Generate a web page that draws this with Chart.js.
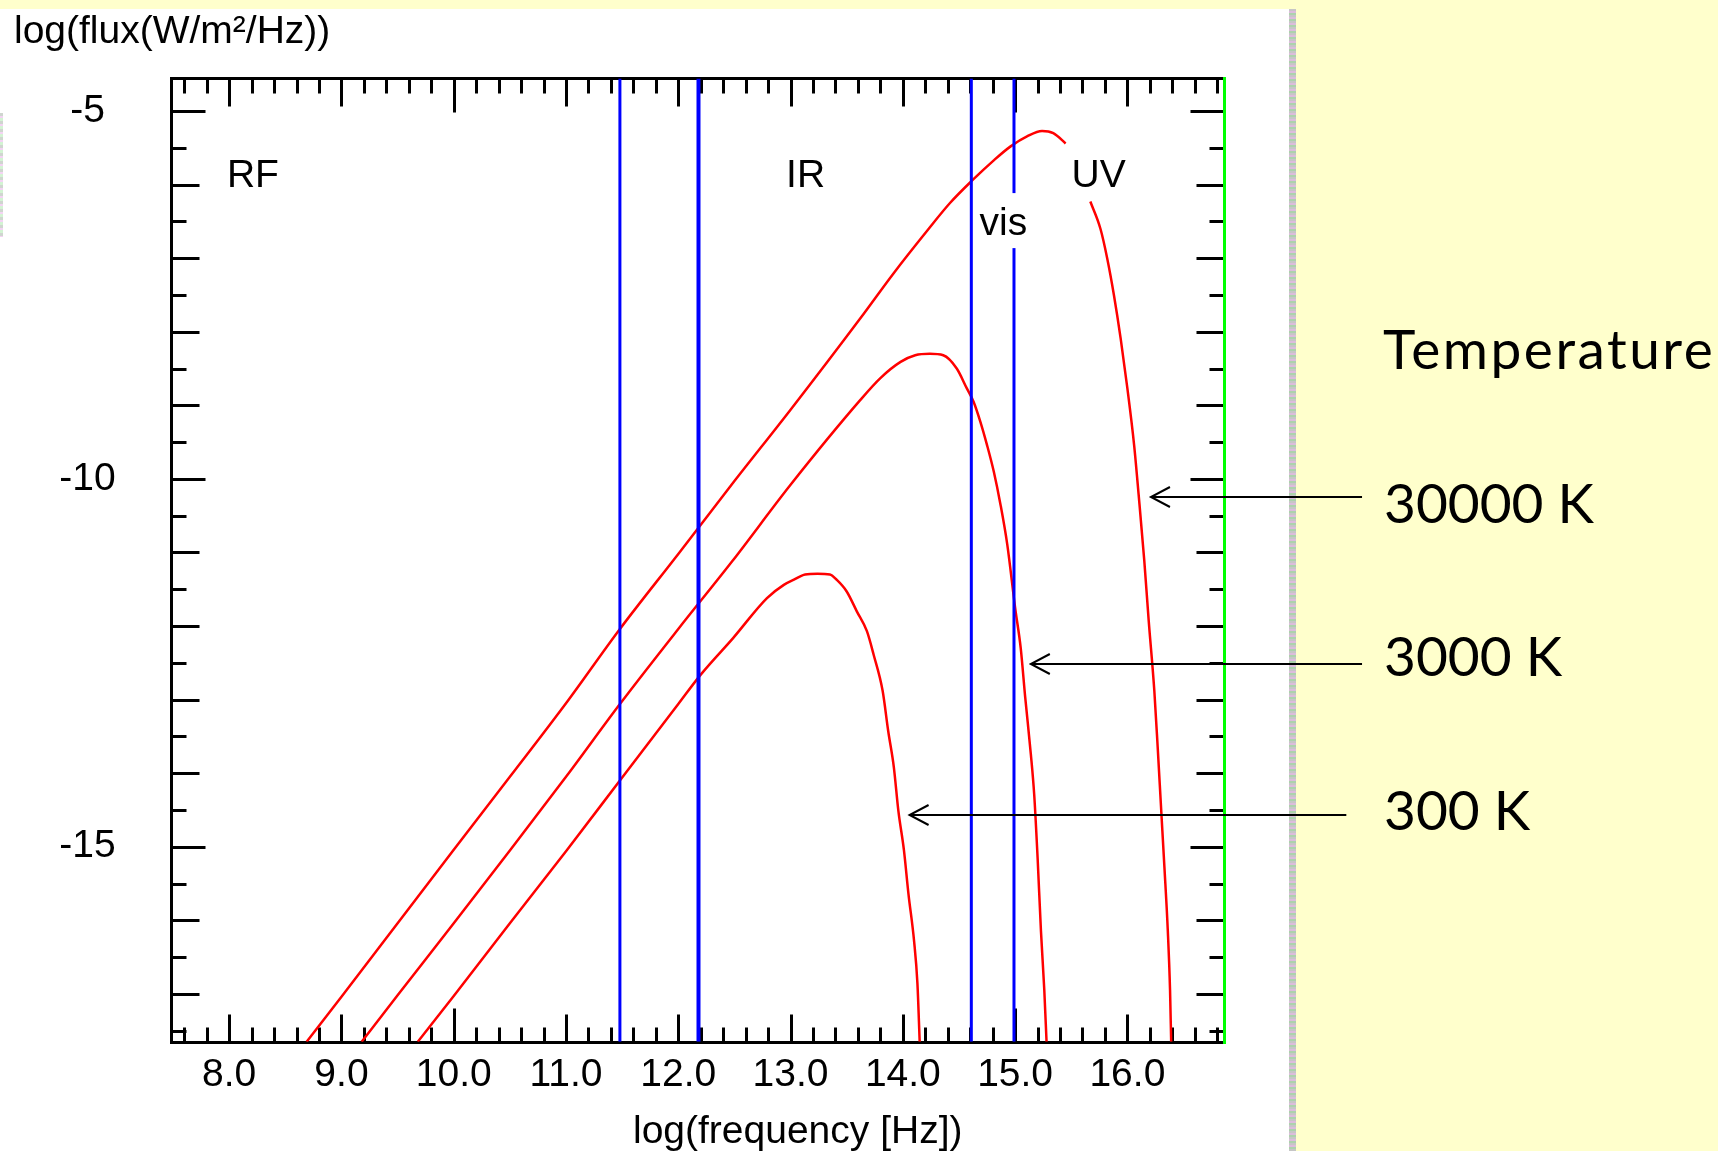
<!DOCTYPE html>
<html>
<head>
<meta charset="utf-8">
<title>Blackbody spectra</title>
<script src="https://cdn.jsdelivr.net/npm/chart.js@4.4.0/dist/chart.umd.min.js"></script>
<style>
  html, body { margin: 0; padding: 0; }
  body { width: 1718px; height: 1151px; background: #ffffcc; position: relative; overflow: hidden; }
  #panel { position: absolute; left: 0; top: 9px; width: 1289px; height: 1142px; background: #fff; }
  #panelEdge { position: absolute; left: 1289px; top: 9px; width: 7px; height: 1142px;
    background: repeating-linear-gradient(180deg, #c6c6c6 0 2px, #dcbcdc 2px 4px, #acd2ac 4px 6px); }
  #leftEdge { position: absolute; left: 0; top: 113px; width: 3px; height: 124px;
    background: repeating-linear-gradient(180deg, #cfd6cf 0 3px, #f3d3f3 3px 5px, #d3f3d3 5px 8px); }
  #chart { position: absolute; left: 0; top: 0; }
</style>
</head>
<body>
<div id="panel"></div>
<div id="panelEdge"></div>
<div id="leftEdge"></div>
<canvas id="chart" width="1718" height="1151"></canvas>
<script>
// log10 frequency [Hz] vs log10 flux [W/m²/Hz] along each blackbody curve
const hotX = [8.69, 9.0, 9.5, 10.0, 10.5, 11.0, 11.48, 12.0, 12.5, 13.0, 13.62, 13.92, 14.22, 14.42, 14.62,
  14.81, 14.96, 15.11, 15.24, 15.34, 15.45, 15.55, 15.67, 15.76, 15.82, 15.88, 15.94, 16.0, 16.06, 16.1,
  16.15, 16.19, 16.24, 16.27, 16.3, 16.33, 16.36, 16.38, 16.39];
const hotY = [-17.65, -17.04, -16.04, -15.04, -14.05, -13.05, -12.04, -11.02, -10.03, -9.06, -7.82, -7.2,
  -6.62, -6.25, -5.94, -5.67, -5.48, -5.34, -5.27, -5.3, -5.44, null, -6.23, -6.6, -7.0, -7.5, -8.09,
  -8.77, -9.54, -10.21, -11.1, -11.93, -12.88, -13.65, -14.47, -15.28, -16.14, -16.95, -17.65];

const warmX = [9.18, 9.5, 10.0, 10.5, 11.0, 11.48, 12.0, 12.48, 13.0, 13.62, 13.8, 13.98, 14.11, 14.24,
  14.36, 14.48, 14.57, 14.63, 14.69, 14.75, 14.81, 14.87, 14.93, 15.0, 15.05, 15.09, 15.14, 15.17, 15.2,
  15.23, 15.26, 15.28];
const warmY = [-17.65, -17.02, -16.04, -15.05, -14.05, -13.06, -12.04, -11.12, -10.08, -8.93, -8.63, -8.41,
  -8.32, -8.3, -8.32, -8.5, -8.77, -8.95, -9.22, -9.54, -9.9, -10.35, -10.89, -11.75, -12.3, -12.97,
  -13.74, -14.29, -15.14, -16.14, -16.95, -17.65];

const coolX = [9.68, 10.0, 10.5, 11.0, 11.48, 12.0, 12.2, 12.49, 12.79, 12.94, 13.03, 13.13, 13.24, 13.35,
  13.41, 13.5, 13.59, 13.68, 13.74, 13.82, 13.87, 13.92, 13.96, 14.01, 14.05, 14.1, 14.13, 14.15];
const coolY = [-17.65, -17.03, -16.04, -15.06, -14.1, -13.06, -12.66, -12.16, -11.62, -11.44, -11.37, -11.3,
  -11.29, -11.3, -11.37, -11.53, -11.8, -12.07, -12.39, -12.88, -13.43, -13.92, -14.51, -15.05, -15.64,
  -16.28, -16.86, -17.65];

const tempLabels = ["30000 K", "3000 K", "300 K"];
const bandEdges = [11.48, 12.18, 14.61, 14.99];
const bandNames = ["RF", "IR", "vis", "UV"];
const xTickLabels = [8, 9, 10, 11, 12, 13, 14, 15, 16];
const yTickLabels = [-5, -10, -15];

// axis limits
const xMin = 7.479, xMax = 16.865;
const yMin = -17.65, yMax = -4.556;

// where the band names sit (left edge, baseline)
const bandLabelX = [7.98, 12.96, 14.683, 15.503];
const bandLabelY = [-6.036, -6.036, -6.686, -6.036];

// arrows from the temperature labels to their curves
const arrowTipX = [16.21, 15.14, 14.06];
const arrowTailX = [18.09, 18.09, 17.95];
const arrowY = [-10.25, -12.51, -14.57];

const labelFont = "39px 'Liberation Sans', Arial, sans-serif";
const slideFont = "55px Lato, 'Open Sans', sans-serif";
const tempBaselines = [523, 676, 830];

function points(xs, ys) {
  return xs.map((v, i) => ({ x: v, y: ys[i] }));
}

const overlay = {
  id: "overlay",
  beforeDatasetsDraw(chart) {
    const { ctx, chartArea: a, scales: { x, y } } = chart;
    const L = Math.round(a.left) + 0.5, R = Math.round(a.right) - 0.5;
    const T = Math.round(a.top) + 0.5, B = Math.round(a.bottom) + 0.5;
    ctx.save();
    ctx.lineWidth = 3;
    ctx.strokeStyle = "#000";
    ctx.beginPath();
    // ticks point inwards: every 0.2 on x, every 0.5 on y
    for (let i = 38; i <= 84; i++) {
      const px = Math.round(x.getPixelForValue(i / 5)) + 0.5;
      const len = i % 25 === 0 ? 34 : i % 5 === 0 ? 28 : 15;
      ctx.moveTo(px, B); ctx.lineTo(px, B - len);
      ctx.moveTo(px, T); ctx.lineTo(px, T + len);
    }
    for (let j = -35; j <= -10; j++) {
      const py = Math.round(y.getPixelForValue(j / 2)) + 0.5;
      const len = j % 10 === 0 ? 34 : j % 2 === 0 ? 28 : 15;
      ctx.moveTo(L, py); ctx.lineTo(L + len, py);
      ctx.moveTo(R, py); ctx.lineTo(R - len, py);
    }
    ctx.stroke();
    ctx.strokeRect(L, T, R - L, B - T);
    ctx.strokeStyle = "#00ff00";
    ctx.beginPath();
    ctx.moveTo(R, T - 1.5);
    ctx.lineTo(R, B + 1.5);
    ctx.stroke();
    ctx.restore();
  },
  afterDatasetsDraw(chart) {
    const { ctx, scales: { x, y } } = chart;
    ctx.save();
    ctx.font = labelFont;
    ctx.textAlign = "left";
    ctx.textBaseline = "alphabetic";
    bandNames.forEach((name, i) => {
      const px = x.getPixelForValue(bandLabelX[i]);
      const py = y.getPixelForValue(bandLabelY[i]);
      const w = ctx.measureText(name).width;
      ctx.fillStyle = "#fff";
      ctx.fillRect(px - 4, py - 42, w + 8, 55);
      ctx.fillStyle = "#000";
      ctx.fillText(name, px, py);
    });
    ctx.fillText("log(flux(W/m²/Hz))", 14, 43);
    ctx.fillText("log(frequency [Hz])", 633, 1143);

    ctx.strokeStyle = "#000";
    ctx.lineWidth = 2;
    arrowTipX.forEach((tx, i) => {
      const px = x.getPixelForValue(tx);
      const py = Math.round(y.getPixelForValue(arrowY[i]));
      const ex = x.getPixelForValue(arrowTailX[i]);
      ctx.beginPath();
      ctx.moveTo(ex, py);
      ctx.lineTo(px, py);
      ctx.moveTo(px + 19, py - 10);
      ctx.lineTo(px, py);
      ctx.lineTo(px + 19, py + 10);
      ctx.stroke();
    });

    ctx.font = slideFont;
    ctx.letterSpacing = "2.5px";
    ctx.fillText("Temperature", 1383, 369);
    ctx.letterSpacing = "0px";
    tempLabels.forEach((t, i) => ctx.fillText(t, 1384, tempBaselines[i]));
    ctx.restore();
  }
};

const blueWidths = [3, 4, 3, 3];
const bandLines = bandEdges.map((v, i) => ({
  data: [{ x: v, y: yMin }, { x: v, y: yMax }],
  borderColor: "#0000ff",
  borderWidth: blueWidths[i],
  pointRadius: 0,
  tension: 0
}));

const curve = (xs, ys) => ({
  data: points(xs, ys),
  borderColor: "#ff0000",
  borderWidth: 2.5,
  pointRadius: 0,
  cubicInterpolationMode: "monotone",
  spanGaps: false
});

new Chart(document.getElementById("chart"), {
  type: "line",
  data: {
    datasets: [...bandLines, curve(hotX, hotY), curve(warmX, warmY), curve(coolX, coolY)]
  },
  options: {
    responsive: false,
    animation: false,
    events: [],
    layout: { padding: { left: 0, top: 76.3, right: 493.5, bottom: 0 } },
    plugins: { legend: { display: false }, tooltip: { enabled: false } },
    scales: {
      x: {
        type: "linear",
        min: xMin,
        max: xMax,
        grid: { display: false, drawTicks: false },
        border: { display: false },
        afterBuildTicks: (s) => { s.ticks = xTickLabels.map((v) => ({ value: v })); },
        afterFit: (s) => { s.height = 109.3; },
        ticks: {
          autoSkip: false,
          maxRotation: 0,
          minRotation: 0,
          padding: 10,
          color: "#000",
          font: { family: "'Liberation Sans', Arial, sans-serif", size: 39 },
          callback: (v) => Number(v).toFixed(1)
        }
      },
      y: {
        type: "linear",
        min: yMin,
        max: yMax,
        grid: { display: false, drawTicks: false },
        border: { display: false },
        afterBuildTicks: (s) => { s.ticks = yTickLabels.map((v) => ({ value: v })); },
        afterFit: (s) => { s.width = 170.7; },
        ticks: {
          crossAlign: "center",
          padding: 55,
          color: "#000",
          font: { family: "'Liberation Sans', Arial, sans-serif", size: 39 },
          callback: (v) => String(v)
        }
      }
    }
  },
  plugins: [overlay]
});
</script>
</body>
</html>
